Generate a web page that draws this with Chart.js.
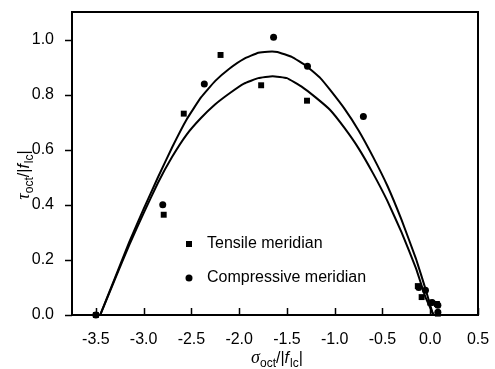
<!DOCTYPE html>
<html lang="en">
<head>
    <meta charset="UTF-8">
    <title>Octahedral meridians</title>
    <script src="https://cdn.jsdelivr.net/npm/chart.js"></script>
    <style>
        html, body { margin: 0; padding: 0; background: #fff; }
        #wrap { width: 495px; height: 369px; }
    </style>
</head>
<body>
<div id="wrap"><canvas id="chart" width="495" height="369"></canvas></div>
<script>
    // tick values
    const xTicks = [-3.5, -3.0, -2.5, -2.0, -1.5, -1.0, -0.5, 0.0, 0.5];
    const yTicks = [0.0, 0.2, 0.4, 0.6, 0.8, 1.0];

    // test points
    const tensileX = [-3.5, -2.79, -2.58, -2.195, -1.77, -1.29, -0.13, -0.09, 0.0, 0.07, 0.08];
    const tensileY = [0.0, 0.364, 0.731, 0.944, 0.834, 0.778, 0.105, 0.065, 0.045, 0.04, 0.005];
    const compX = [-3.5, -2.8, -2.365, -1.64, -1.285, -0.7, -0.12, -0.05, 0.02, 0.08, 0.08];
    const compY = [0.0, 0.40, 0.839, 1.008, 0.903, 0.721, 0.10, 0.09, 0.045, 0.035, 0.01];

    // fitted meridian curves
    const outerX = [-3.455, -3.3, -3.15, -3.0, -2.85, -2.7, -2.55, -2.4, -2.25, -2.1, -1.95, -1.8, -1.7, -1.6, -1.45, -1.3, -1.15, -1.05, -0.9, -0.75, -0.6, -0.45, -0.3, -0.15, -0.05, 0.03];
    const outerY = [0.0, 0.135, 0.265, 0.385, 0.50, 0.61, 0.71, 0.79, 0.85, 0.895, 0.93, 0.952, 0.956, 0.955, 0.937, 0.905, 0.86, 0.818, 0.75, 0.67, 0.575, 0.47, 0.345, 0.205, 0.095, 0.0];
    const innerX = [-3.455, -3.3, -3.15, -3.0, -2.85, -2.7, -2.55, -2.4, -2.25, -2.1, -1.95, -1.8, -1.65, -1.5, -1.35, -1.2, -1.05, -0.9, -0.75, -0.6, -0.45, -0.3, -0.15, -0.05, 0.035];
    const innerY = [0.0, 0.13, 0.255, 0.37, 0.48, 0.575, 0.655, 0.715, 0.765, 0.805, 0.84, 0.86, 0.867, 0.86, 0.83, 0.79, 0.745, 0.68, 0.605, 0.515, 0.415, 0.30, 0.17, 0.065, 0.0];

    const pts = (xs, ys) => xs.map((x, i) => ({ x: x, y: ys[i] }));
    const FONT = "'Liberation Sans', Arial, sans-serif";

    // frame, tick marks, legend and axis titles
    const decor = {
        id: 'decor',
        afterDraw(chart) {
            const ctx = chart.ctx;
            const a = chart.chartArea;
            const xs = chart.scales.x, ys = chart.scales.y;
            ctx.save();
            ctx.strokeStyle = '#000';
            ctx.lineWidth = 2;
            ctx.strokeRect(a.left, a.top, a.right - a.left, a.bottom - a.top);

            ctx.lineWidth = 1.5;
            ctx.beginPath();
            xTicks.forEach(v => {
                const px = Math.round(xs.getPixelForValue(v)) + 0.5;
                ctx.moveTo(px, a.bottom);
                ctx.lineTo(px, a.bottom - 7);
            });
            yTicks.forEach(v => {
                const py = Math.round(ys.getPixelForValue(v)) + 0.5;
                ctx.moveTo(a.left, py);
                ctx.lineTo(a.left - 7, py);
            });
            ctx.stroke();

            // legend
            ctx.fillStyle = '#000';
            ctx.font = '16px ' + FONT;
            ctx.textBaseline = 'middle';
            ctx.fillRect(189 - 3, 244 - 3, 6, 6);
            ctx.fillText(chart.data.datasets[2].label, 207, 244);
            ctx.beginPath();
            ctx.arc(189, 278, 3.5, 0, Math.PI * 2);
            ctx.fill();
            ctx.fillText(chart.data.datasets[3].label, 207, 278);

            // axis titles with subscripts
            const parts = (greek) => [
                { t: greek, f: "italic 18px 'Liberation Serif', serif", dy: 0 },
                { t: 'oct', f: '12px ' + FONT, dy: 4 },
                { t: '/|', f: '16px ' + FONT, dy: 0 },
                { t: 'f', f: 'italic 16px ' + FONT, dy: 0 },
                { t: 'lc', f: '12px ' + FONT, dy: 4 },
                { t: '|', f: '16px ' + FONT, dy: 0 }
            ];
            const drawTitle = (list, cx, baseY, rot) => {
                ctx.save();
                ctx.textBaseline = 'alphabetic';
                let w = 0;
                list.forEach(p => { ctx.font = p.f; p.w = ctx.measureText(p.t).width + (p.t === 'f' ? 1 : 0); w += p.w; });
                if (rot) {
                    ctx.translate(baseY, cx);
                    ctx.rotate(-Math.PI / 2);
                } else {
                    ctx.translate(cx, baseY);
                }
                let x = -w / 2;
                list.forEach(p => {
                    ctx.font = p.f;
                    ctx.fillText(p.t, x, p.dy);
                    x += p.w;
                });
                ctx.restore();
            };
            drawTitle(parts('σ'), 277, 363, false);
            drawTitle(parts('τ'), 175, 29, true);
            ctx.restore();
        }
    };

    new Chart(document.getElementById('chart'), {
        type: 'scatter',
        data: {
            datasets: [
                {
                    label: 'Compressive fit',
                    data: pts(outerX, outerY),
                    showLine: true,
                    borderColor: '#000',
                    borderWidth: 2,
                    pointRadius: 0,
                    tension: 0.1
                },
                {
                    label: 'Tensile fit',
                    data: pts(innerX, innerY),
                    showLine: true,
                    borderColor: '#000',
                    borderWidth: 2,
                    pointRadius: 0,
                    tension: 0.1
                },
                {
                    label: 'Tensile meridian',
                    data: pts(tensileX, tensileY),
                    pointStyle: 'rect',
                    pointRadius: 4.2,
                    backgroundColor: '#000',
                    borderColor: '#000',
                    borderWidth: 0
                },
                {
                    label: 'Compressive meridian',
                    data: pts(compX, compY),
                    pointStyle: 'circle',
                    pointRadius: 3.5,
                    backgroundColor: '#000',
                    borderColor: '#000',
                    borderWidth: 0
                }
            ]
        },
        options: {
            responsive: false,
            animation: false,
            clip: false,
            layout: { padding: { top: 12, right: 17, left: 0, bottom: 0 } },
            plugins: { legend: { display: false }, tooltip: { enabled: false } },
            scales: {
                x: {
                    type: 'linear',
                    min: -3.75,
                    max: 0.5,
                    afterBuildTicks: s => { s.ticks = xTicks.map(v => ({ value: v })); },
                    afterFit: s => { s.height = 54; s.paddingLeft = 0; s.paddingRight = 0; },
                    grid: { display: false },
                    border: { display: false },
                    ticks: {
                        color: '#000',
                        font: { family: FONT, size: 16 },
                        padding: 7,
                        maxRotation: 0,
                        autoSkip: false,
                        callback: v => v.toFixed(1)
                    }
                },
                y: {
                    type: 'linear',
                    min: 0,
                    max: 1.1,
                    afterBuildTicks: s => { s.ticks = yTicks.map(v => ({ value: v })); },
                    afterFit: s => { s.width = 72; s.paddingTop = 0; s.paddingBottom = 0; },
                    grid: { display: false },
                    border: { display: false },
                    ticks: {
                        color: '#000',
                        font: { family: FONT, size: 16 },
                        padding: 10,
                        callback: v => v.toFixed(1)
                    }
                }
            }
        },
        plugins: [decor]
    });
</script>
</body>
</html>
